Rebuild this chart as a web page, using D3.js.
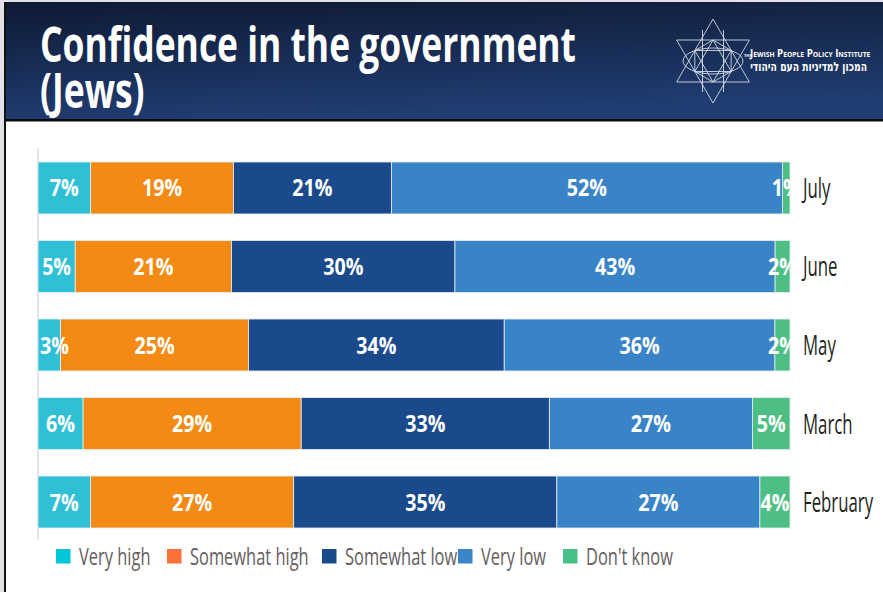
<!DOCTYPE html>
<html>
<head>
<meta charset="utf-8">
<script src="https://cdn.jsdelivr.net/npm/d3@7"></script>
<style>
  html, body { margin: 0; padding: 0; background: #fff; }
  svg { display: block; }
</style>
</head>
<body>
<svg id="chart" width="883" height="592"></svg>
<script>
// Survey waves, top to bottom
const months = ["July", "June", "May", "March", "February"];
// Answer categories, in stacking order
const categories = ["Very high", "Somewhat high", "Somewhat low", "Very low", "Don't know"];
// Share of respondents (%) per wave
const veryHigh     = [7, 5, 3, 6, 7];
const somewhatHigh = [19, 21, 25, 29, 27];
const somewhatLow  = [21, 30, 34, 33, 35];
const veryLow      = [52, 43, 36, 27, 27];
const dontKnow     = [1, 2, 2, 5, 4];
// Chart title, one entry per line
const titleLines = ["Confidence in the government", "(Jews)"];

const barColors    = ["#2fc0d6", "#f28a14", "#1b4a8c", "#3984c6", "#4dbf85"];
const legendColors = ["#00c6d9", "#fd7038", "#1b4a8c", "#3a86c6", "#47bf87"];

const seriesValues = [veryHigh, somewhatHigh, somewhatLow, veryLow, dontKnow];
const rows = months.map((m, i) => {
  const r = { month: m };
  categories.forEach((c, j) => { r[c] = seriesValues[j][i]; });
  return r;
});

const svg = d3.select("#chart");
const W = 883, H = 592;
const FONT = "'Open Sans', 'DejaVu Sans', sans-serif";

// ---- frame ----
svg.append("rect").attr("x", 0).attr("y", 0).attr("width", W).attr("height", H).attr("fill", "#fff");
svg.append("rect").attr("x", 0).attr("y", 0).attr("width", 4).attr("height", H).attr("fill", "#e3e1e5");
svg.append("rect").attr("x", 0).attr("y", 0).attr("width", W).attr("height", 2).attr("fill", "#e3e1e5");
svg.append("rect").attr("x", 4).attr("y", 2).attr("width", 2).attr("height", H).attr("fill", "#111");

// ---- header ----
const defs = svg.append("defs");
const grad = defs.append("linearGradient").attr("id", "hdr")
  .attr("x1", 0).attr("y1", 0).attr("x2", 0.25).attr("y2", 1);
grad.append("stop").attr("offset", "0%").attr("stop-color", "#0f1a34");
grad.append("stop").attr("offset", "100%").attr("stop-color", "#203d72");
svg.append("rect").attr("x", 6).attr("y", 2).attr("width", W - 6).attr("height", 118).attr("fill", "url(#hdr)");
svg.append("rect").attr("x", 6).attr("y", 119).attr("width", W - 6).attr("height", 2.5).attr("fill", "#0a0a0a");

function ctext(parent, str, x, y, size, weight, sx, anchor, fill) {
  return parent.append("text")
    .attr("transform", `translate(${x},${y}) scale(${sx},1)`)
    .attr("text-anchor", anchor)
    .attr("font-family", FONT)
    .attr("font-size", size)
    .attr("font-weight", weight)
    .attr("fill", fill)
    .text(str);
}

// two-line title in one text block
const title = ctext(svg, null, 40, 62, 48, 700, 0.738, "start", "#fff");
title.selectAll("tspan").data(titleLines).join("tspan")
  .attr("x", 0).attr("dy", (d, i) => i === 0 ? 0 : 46).text(d => d);

// ---- logo: star of David line mark ----
const logo = svg.append("g").attr("fill", "none").attr("stroke", "#e8ecf4").attr("stroke-width", 0.9).attr("opacity", 0.9);
const cx = 713, cy = 61;
const tri = (r, up) => {
  const pts = [0, 120, 240].map(a => {
    const t = (a + (up ? -90 : 90)) * Math.PI / 180;
    return [cx + r * Math.cos(t), cy + r * Math.sin(t)];
  });
  return "M" + pts.map(p => p.join(",")).join("L") + "Z";
};
logo.append("path").attr("d", tri(42, true));
logo.append("path").attr("d", tri(42, false));
logo.append("path").attr("d", tri(21, true));
logo.append("path").attr("d", tri(21, false));
const hex = d3.range(6).map(i => {
  const t = (i * 60 + 30) * Math.PI / 180;
  return [cx + 21 * Math.cos(t), cy + 21 * Math.sin(t)];
});
logo.append("path").attr("d", "M" + hex.map(p => p.join(",")).join("L") + "Z");
logo.append("line").attr("x1", cx - 10.5).attr("x2", cx - 10.5).attr("y1", cy - 31).attr("y2", cy + 31);
logo.append("line").attr("x1", cx + 10.5).attr("x2", cx + 10.5).attr("y1", cy - 31).attr("y2", cy + 31);
logo.append("ellipse").attr("cx", cx).attr("cy", cy).attr("rx", 30).attr("ry", 13);

// institute name, English in small caps and Hebrew below
ctext(svg, "THE", 744, 57, 4, 700, 1, "start", "#fff");
const eng = ctext(svg, "Jewish People Policy Institute", 750, 57, 10.5, 700, 1, "start", "#fff")
  .attr("font-variant", "small-caps");
const engW = eng.node().getComputedTextLength();
eng.attr("transform", `translate(750,57) scale(${117 / engW},1)`);
const heb = svg.append("text")
  .attr("font-family", "'DejaVu Sans', sans-serif").attr("font-size", 12.5).attr("font-weight", 700)
  .attr("fill", "#fff").attr("text-anchor", "end")
  .text("המכון למדיניות העם היהודי");
const hebW = heb.node().getComputedTextLength();
heb.attr("transform", `translate(867,71) scale(${117 / hebW},1)`);

// ---- chart ----
const x = d3.scaleLinear().domain([0, 1]).range([38, 790]);
const y = d3.scaleBand().domain(months).range([162, 528]).paddingInner(0.338).paddingOuter(0);
const color = d3.scaleOrdinal().domain(categories).range(barColors);

const stacked = d3.stack().keys(categories).offset(d3.stackOffsetExpand)(rows);

// axis line on the left
svg.append("line").attr("x1", 38).attr("x2", 38).attr("y1", 148).attr("y2", 540)
  .attr("stroke", "#dcdcdc").attr("stroke-width", 1.5);

const layers = svg.append("g").selectAll("g").data(stacked).join("g")
  .attr("fill", d => color(d.key));
layers.selectAll("rect").data(d => d.map(v => ({ v, key: d.key }))).join("rect")
  .attr("x", d => x(d.v[0]))
  .attr("width", d => x(d.v[1]) - x(d.v[0]))
  .attr("y", d => y(d.v.data.month))
  .attr("height", y.bandwidth())
  .attr("stroke", "#e6eef6").attr("stroke-width", 0.8);

defs.append("clipPath").attr("id", "plotclip").append("rect")
  .attr("x", 38).attr("y", 150).attr("width", 752).attr("height", 390);

// value labels: centred in each segment, kept clear of the left edge, clipped at the plot
const labels = svg.append("g").attr("clip-path", "url(#plotclip)");
const LSX = 0.82;
stacked.forEach(layer => {
  layer.forEach(v => {
    let cxl = (x(v[0]) + x(v[1])) / 2;
    const cyl = y(v.data.month) + y.bandwidth() / 2 + 8.5;
    const t = ctext(labels, v.data[layer.key] + "%", cxl, cyl, 24, 700, LSX, "middle", "#fff");
    const half = t.node().getComputedTextLength() * LSX / 2;
    if (cxl - half < x(0) + 2) {
      cxl = x(0) + 2 + half;
      t.attr("transform", `translate(${cxl},${cyl}) scale(${LSX},1)`);
    }
  });
});

// month labels on the right
months.forEach(m => {
  ctext(svg, m, 803, y(m) + y.bandwidth() / 2 + 10, 28, 400, 0.6, "start", "#231f20");
});

// ---- legend ----
const legendX = [56, 167, 322, 458, 563];
categories.forEach((c, i) => {
  svg.append("rect").attr("x", legendX[i]).attr("y", 549).attr("width", 14.5).attr("height", 14.5)
    .attr("fill", legendColors[i]);
  ctext(svg, c, legendX[i] + 23, 565, 23.5, 400, 0.7, "start", "#655d60");
});
</script>
</body>
</html>
